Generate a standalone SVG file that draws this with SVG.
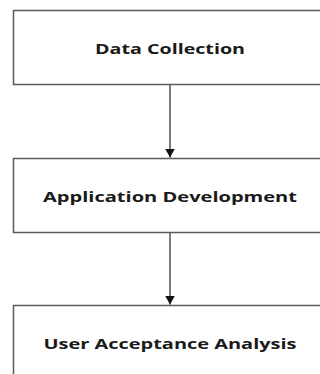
<svg xmlns="http://www.w3.org/2000/svg" width="320" height="374" viewBox="0 0 320 374">
<defs>
<style>
.box{fill:#ffffff;stroke:#5a5a5a;stroke-width:1.5}
.lbl{font-family:"Open Sans","Liberation Sans",sans-serif;font-weight:bold;font-size:15px;fill:#1a1a1a;text-anchor:middle}
.conn{stroke:#333333;stroke-width:1.3;fill:none}
</style>
<marker id="ah" markerWidth="9" markerHeight="10" refX="9" refY="5" orient="auto" markerUnits="userSpaceOnUse" viewBox="0 0 9 10">
<path d="M0,0 L9,5 L0,10 Z" fill="#111111"/>
</marker>
</defs>
<rect width="320" height="374" fill="#ffffff"/>
<g id="node-data-collection">
<rect class="box" x="13.5" y="10.5" width="320" height="74"/>
<text class="lbl" x="170" y="54" textLength="150" lengthAdjust="spacingAndGlyphs">Data Collection</text>
</g>
<g id="node-application-development">
<rect class="box" x="13.5" y="158.5" width="320" height="74"/>
<text class="lbl" x="170" y="202" textLength="254" lengthAdjust="spacingAndGlyphs">Application Development</text>
</g>
<g id="node-user-acceptance-analysis">
<rect class="box" x="13.5" y="305.5" width="320" height="80"/>
<text class="lbl" x="170" y="349" textLength="253" lengthAdjust="spacingAndGlyphs">User Acceptance Analysis</text>
</g>
<g id="connectors">
<line class="conn" x1="170" y1="85" x2="170" y2="157.5" marker-end="url(#ah)"/>
<line class="conn" x1="170" y1="233" x2="170" y2="304.5" marker-end="url(#ah)"/>
</g>
</svg>
